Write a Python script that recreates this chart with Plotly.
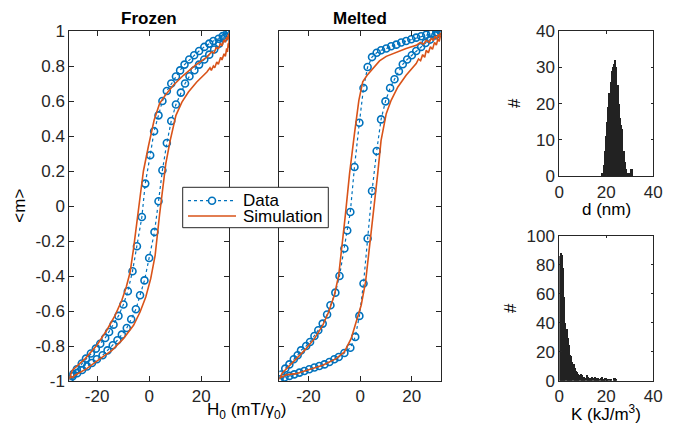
import plotly.graph_objects as go

# ---------------- data ----------------
# Frozen: measured loop (upper branch descending field, then lower branch ascending)
frozen_data_up_H = [30.8, 29.9, 28.3, 26.7, 24.7, 23.1, 21.2, 19.2, 17.3, 15.4, 13.6, 11.9, 10.3, 8.5, 6.8, 5.1, 3.6, 1.9, 0.4, -1.5,
                    -2.8, -4.7, -6.4, -8.2, -9.9, -11.8, -13.7, -15.4, -16.9, -18.8, -20.5, -22.4, -24.3, -25.9, -27.8, -29.2, -30.6]
frozen_data_up_m = [1.0, 0.985, 0.971, 0.956, 0.943, 0.928, 0.909, 0.886, 0.861, 0.837, 0.808, 0.775, 0.74, 0.70, 0.657, 0.60, 0.518, 0.427, 0.29, 0.128,
                    -0.063, -0.23, -0.373, -0.487, -0.563, -0.628, -0.678, -0.72, -0.754, -0.787, -0.815, -0.843, -0.872, -0.90, -0.933, -0.96, -0.99]
frozen_data_lo_H = [-30.8, -29.4, -27.7, -25.8, -23.9, -22.0, -20.1, -17.9, -16.0, -14.0, -12.2, -10.5, -8.6, -6.9, -5.1, -3.5, -1.8, 0.0,
                    2.05, 3.6, 5.1, 6.8, 8.5, 10.3, 12.2, 13.8, 15.5, 17.4, 19.2, 21.2, 23.1, 25.0, 26.9, 28.8, 30.8]
frozen_data_lo_m = [-1.0, -0.972, -0.955, -0.937, -0.917, -0.897, -0.876, -0.853, -0.825, -0.796, -0.767, -0.735, -0.697, -0.647, -0.59, -0.51, -0.425, -0.297,
                    -0.149, 0.027, 0.204, 0.36, 0.486, 0.58, 0.648, 0.70, 0.741, 0.776, 0.808, 0.837, 0.865, 0.894, 0.928, 0.96, 1.0]

# Frozen: simulation loop (noisy near saturation)
frozen_sim_up_H = [30.8, 30.6, 30.4, 30.1, 29.8, 29.3, 28.8, 28.0, 27.4, 26.7, 25.8, 24.9, 24.0, 22.2, 17.7, 13.2, 9.3, 6.2, 4.0, 1.9,
                   -0.3, -2.2, -3.5, -4.3, -6.0, -7.3, -8.8, -10.5, -13.1, -16.3, -20.1, -24.6, -28.5, -29.6, -30.2, -30.7]
frozen_sim_up_m = [0.99, 0.96, 0.98, 0.95, 0.965, 0.935, 0.95, 0.915, 0.93, 0.90, 0.905, 0.875, 0.88, 0.851, 0.804, 0.747, 0.69, 0.633, 0.585, 0.49,
                   0.34, 0.2, 0.05, -0.05, -0.243, -0.377, -0.463, -0.539, -0.625, -0.71, -0.796, -0.872, -0.929, -0.94, -0.965, -0.986]
frozen_sim_lo_H = [-30.7, -30.1, -29.4, -28.5, -24.0, -18.8, -14.3, -9.9, -6.0, -3.5, -1.3, 0.6, 2.3, 4.0, 4.9, 6.4, 8.1, 10.3, 12.6, 15.1,
                   18.3, 22.2, 23.4, 23.9, 24.7, 25.2, 26.0, 26.6, 27.5, 28.0, 28.8, 29.3, 29.8, 30.1, 30.4, 30.6, 30.8]
frozen_sim_lo_m = [-0.99, -0.975, -0.98, -0.967, -0.929, -0.872, -0.825, -0.758, -0.682, -0.606, -0.52, -0.415, -0.282, -0.05, 0.07, 0.242, 0.375, 0.518, 0.594, 0.651,
                   0.709, 0.766, 0.79, 0.775, 0.80, 0.79, 0.823, 0.81, 0.85, 0.835, 0.87, 0.855, 0.90, 0.88, 0.93, 0.905, 0.96]

# Melted: measured loop
melted_data_up_H = [31.1, 29.5, 27.5, 25.6, 23.6, 21.7, 19.8, 17.8, 15.9, 14.0, 12.0, 10.1, 8.1, 6.4, 4.6, 2.9, 1.3, -0.3, -2.2, -3.8,
                    -5.0, -6.1, -8.0, -9.6, -11.5, -12.8, -14.5, -16.2, -17.7, -19.4, -20.9, -22.9, -24.2, -25.7, -27.4, -29.0, -30.6, -31.3]
melted_data_up_m = [1.0, 0.993, 0.985, 0.979, 0.97, 0.962, 0.953, 0.943, 0.934, 0.922, 0.913, 0.90, 0.89, 0.876, 0.851, 0.794, 0.674, 0.476, 0.223, -0.034,
                    -0.14, -0.243, -0.40, -0.495, -0.567, -0.62, -0.672, -0.71, -0.743, -0.777, -0.80, -0.825, -0.853, -0.876, -0.905, -0.929, -0.963, -0.99]
melted_data_lo_H = [-31.3, -29.3, -27.4, -25.5, -23.5, -21.6, -19.7, -17.7, -15.8, -13.8, -11.9, -10.0, -8.3, -6.1, -3.8, -1.9, -0.3, 1.3,
                    2.9, 4.6, 6.4, 8.1, 9.8, 11.6, 13.3, 15.0, 16.5, 18.2, 20.0, 21.7, 23.6, 25.3, 27.1, 29.1, 31.1]
melted_data_lo_m = [-0.99, -0.98, -0.971, -0.962, -0.952, -0.943, -0.933, -0.923, -0.914, -0.905, -0.891, -0.876, -0.863, -0.84, -0.81, -0.748, -0.628, -0.443,
                    -0.186, 0.086, 0.314, 0.495, 0.598, 0.674, 0.724, 0.77, 0.81, 0.837, 0.861, 0.886, 0.909, 0.931, 0.951, 0.975, 1.0]

# Melted: simulation loop (noisy near saturation)
melted_sim_up_H = [31.1, 30.7, 30.2, 29.6, 29.0, 28.3, 27.6, 26.8, 25.6, 24.5, 23.3, 21.7, 17.8, 14.0, 10.1, 7.5, 4.9, 2.7, 1.0, -0.5,
                   -2.2, -4.1, -5.7, -7.0, -8.3, -10.0, -12.2, -14.5, -17.7, -20.9, -24.8, -28.7, -30.2, -31.3]
melted_sim_up_m = [0.99, 0.965, 0.98, 0.955, 0.97, 0.945, 0.96, 0.935, 0.947, 0.925, 0.935, 0.918, 0.90, 0.88, 0.855, 0.829, 0.785, 0.747, 0.709, 0.604,
                   0.414, 0.185, -0.048, -0.206, -0.396, -0.51, -0.606, -0.682, -0.758, -0.815, -0.872, -0.929, -0.955, -0.99]
melted_sim_lo_H = [-31.3, -30.6, -30.0, -28.8, -24.8, -19.7, -14.5, -9.3, -6.1, -3.5, -1.3, 0.4, 2.1, 3.6, 5.2, 6.8, 8.1, 10.1, 12.0, 14.6,
                   17.8, 21.7, 22.6, 23.4, 24.2, 25.0, 25.6, 26.4, 27.2, 28.0, 28.8, 29.5, 30.1, 30.6, 31.1]
melted_sim_lo_m = [-0.99, -0.975, -0.977, -0.965, -0.958, -0.933, -0.91, -0.872, -0.834, -0.758, -0.644, -0.567, -0.434, -0.243, -0.05, 0.185, 0.375, 0.528, 0.604, 0.68,
                   0.747, 0.814, 0.84, 0.83, 0.865, 0.85, 0.89, 0.875, 0.91, 0.895, 0.935, 0.92, 0.955, 0.94, 0.975]

# Particle size distribution d (nm)
d_bins = [18.5, 19.0, 19.5, 20.0, 20.5, 21.0, 21.5, 22.0, 22.5, 23.0, 23.5, 24.0, 24.5, 25.0, 25.5, 26.0, 26.5, 27.0,
          27.5, 28.0, 28.5, 29.0, 29.5, 30.0, 30.5, 31.0]
d_counts = [1, 3, 7, 11, 15, 19, 23, 26, 29, 30, 31, 32, 30, 25, 20, 16, 14, 13, 7, 4, 2, 1, 1, 1, 2, 2]

# Anisotropy distribution K (kJ/m^3)
K_bins = [0.25, 0.75, 1.25, 1.75, 2.25, 2.75, 3.25, 3.75, 4.25, 4.75, 5.25, 5.75, 6.25, 6.75, 7.25, 7.75, 8.25, 8.75,
          9.25, 9.75, 10.25, 10.75, 11.25, 11.75, 12.25, 12.75, 13.25, 13.75, 14.25, 14.75, 15.25, 15.75, 16.25, 16.75,
          17.25, 17.75, 18.25, 18.75, 19.25, 19.75, 20.25, 20.75, 21.25, 21.75, 22.25, 22.75, 23.25, 23.75, 24.25]
K_counts = [86, 88, 87, 78, 58, 40, 36, 30, 25, 18, 17, 13, 12, 9, 7, 6, 5, 4,
            5, 4, 3, 3, 2, 4, 3, 2, 2, 1, 3, 2, 3, 1, 2, 2,
            1, 2, 3, 1, 1, 2, 1, 1, 0, 1, 1, 0, 2, 2, 1]

H_ticks = [-20, 0, 20]
H_ticktext = ["-20", "0", "20"]
m_ticks = [1, 0.8, 0.6, 0.4, 0.2, 0, -0.2, -0.4, -0.6, -0.8, -1]
m_ticktext = ["1", "0.8", "0.6", "0.4", "0.2", "0", "-0.2", "-0.4", "-0.6", "-0.8", "-1"]
legend_labels = ["Data", "Simulation"]

# ---------------- style ----------------
BLUE = "#0072BD"
ORANGE = "#D95319"
AX = "#262626"
FONT = "Liberation Sans, Arial, Helvetica, sans-serif"
FS = 17

W, Hh = 675, 429
def px_x(a, b):
    return [a / W, b / W]
def px_y(top, bottom):
    return [1 - bottom / Hh, 1 - top / Hh]

fig = go.Figure()

def loop_traces(up_H, up_m, lo_H, lo_m, sup_H, sup_m, slo_H, slo_m, xa, ya):
    fig.add_trace(go.Scatter(
        x=up_H + lo_H, y=up_m + lo_m, xaxis=xa, yaxis=ya, mode="lines+markers",
        name=legend_labels[0], showlegend=False,
        line=dict(color=BLUE, width=1.2, dash="dot"),
        marker=dict(symbol="circle-open", size=7, color=BLUE, line=dict(width=1.6, color=BLUE))))
    fig.add_trace(go.Scatter(
        x=sup_H + slo_H, y=sup_m + slo_m, xaxis=xa, yaxis=ya, mode="lines",
        name=legend_labels[1], showlegend=False,
        line=dict(color=ORANGE, width=1.6)))

loop_traces(frozen_data_up_H, frozen_data_up_m, frozen_data_lo_H, frozen_data_lo_m,
            frozen_sim_up_H, frozen_sim_up_m, frozen_sim_lo_H, frozen_sim_lo_m, "x", "y")
loop_traces(melted_data_up_H, melted_data_up_m, melted_data_lo_H, melted_data_lo_m,
            melted_sim_up_H, melted_sim_up_m, melted_sim_lo_H, melted_sim_lo_m, "x2", "y2")

fig.add_trace(go.Bar(x=d_bins, y=d_counts, width=0.5, xaxis="x3", yaxis="y3", showlegend=False,
                     marker=dict(color="#222222", line=dict(width=0))))
fig.add_trace(go.Bar(x=K_bins, y=K_counts, width=0.5, xaxis="x4", yaxis="y4", showlegend=False,
                     marker=dict(color="#222222", line=dict(width=0))))

common = dict(showgrid=False, zeroline=False, showline=True, linecolor=AX, linewidth=1,
              mirror="ticks", ticks="inside", ticklen=5, tickcolor=AX, tickwidth=1, automargin=False,
              tickfont=dict(family=FONT, size=FS, color=AX))
hist = dict(common, ticklen=2.5)

fig.update_layout(
    width=W, height=Hh, margin=dict(l=0, r=0, t=0, b=0, pad=0, autoexpand=False),
    paper_bgcolor="white", plot_bgcolor="white", bargap=0, showlegend=False,
    xaxis=dict(domain=px_x(69.3, 229), range=[-30.7, 30.7], tickvals=H_ticks, ticktext=H_ticktext, anchor="y", **common),
    yaxis=dict(domain=px_y(31, 381), range=[-1, 1], tickvals=m_ticks, ticktext=m_ticktext, anchor="x", **common),
    xaxis2=dict(domain=px_x(279.3, 441), range=[-31.3, 31.3], tickvals=H_ticks, ticktext=H_ticktext, anchor="y2", **common),
    yaxis2=dict(domain=px_y(31, 381), range=[-1, 1], tickvals=m_ticks, showticklabels=False, anchor="x2", **common),
    xaxis3=dict(domain=px_x(559.3, 653.3), range=[0, 40], tickvals=[0, 20, 40], anchor="y3", **hist),
    yaxis3=dict(domain=px_y(31, 176.3), range=[0, 40], tickvals=[0, 10, 20, 30, 40], anchor="x3", **hist),
    xaxis4=dict(domain=px_x(559.3, 653.3), range=[0, 40], tickvals=[0, 20, 40], anchor="y4", **hist),
    yaxis4=dict(domain=px_y(235.7, 380.7), range=[0, 100], tickvals=[0, 20, 40, 60, 80, 100], anchor="x4", **hist),
)

def ann(text, x, y, size=FS, angle=0, bold=False, xanchor="center"):
    fig.add_annotation(text=("<b>%s</b>" % text) if bold else text, x=x / W, y=1 - y / Hh,
                       xref="paper", yref="paper", showarrow=False, textangle=angle,
                       xanchor=xanchor, yanchor="middle",
                       font=dict(family=FONT, size=size, color="black"))

ann("Frozen", 149, 18.5, bold=True)
ann("Melted", 360, 18.5, bold=True)
ann("H<sub>0</sub> (mT/γ<sub>0</sub>)", 246, 411)
ann("&lt;m&gt;", 20, 205.7, angle=-90)
ann("#", 515, 103, angle=-90)
ann("d (nm)", 606, 209)
ann("#", 510, 308, angle=-90)
ann("K (kJ/m<sup>3</sup>)", 606, 413)

# ---- legend (drawn as a boxed key, MATLAB style) ----
def sx(p):
    return p / W
def sy(p):
    return 1 - p / Hh

fig.add_shape(type="rect", xref="paper", yref="paper", x0=sx(182.7), x1=sx(328.3), y0=sy(227.7), y1=sy(187.3),
              fillcolor="white", line=dict(color=AX, width=1), layer="above")
fig.add_shape(type="line", xref="paper", yref="paper", x0=sx(188), x1=sx(236), y0=sy(200.7), y1=sy(200.7),
              line=dict(color=BLUE, width=1.2, dash="dot"), layer="above")
fig.add_shape(type="circle", xref="paper", yref="paper", x0=sx(208.5), x1=sx(215.5), y0=sy(204.2), y1=sy(197.2),
              fillcolor="white", line=dict(color=BLUE, width=1.6), layer="above")
fig.add_shape(type="line", xref="paper", yref="paper", x0=sx(188), x1=sx(236), y0=sy(216), y1=sy(216),
              line=dict(color=ORANGE, width=1.6), layer="above")
ann(legend_labels[0], 240.5, 200.7, xanchor="left")
ann(legend_labels[1], 240.5, 216, xanchor="left")

fig.write_html("out.html", config={"displayModeBar": False},
               post_script="document.body.style.margin='0px';")
